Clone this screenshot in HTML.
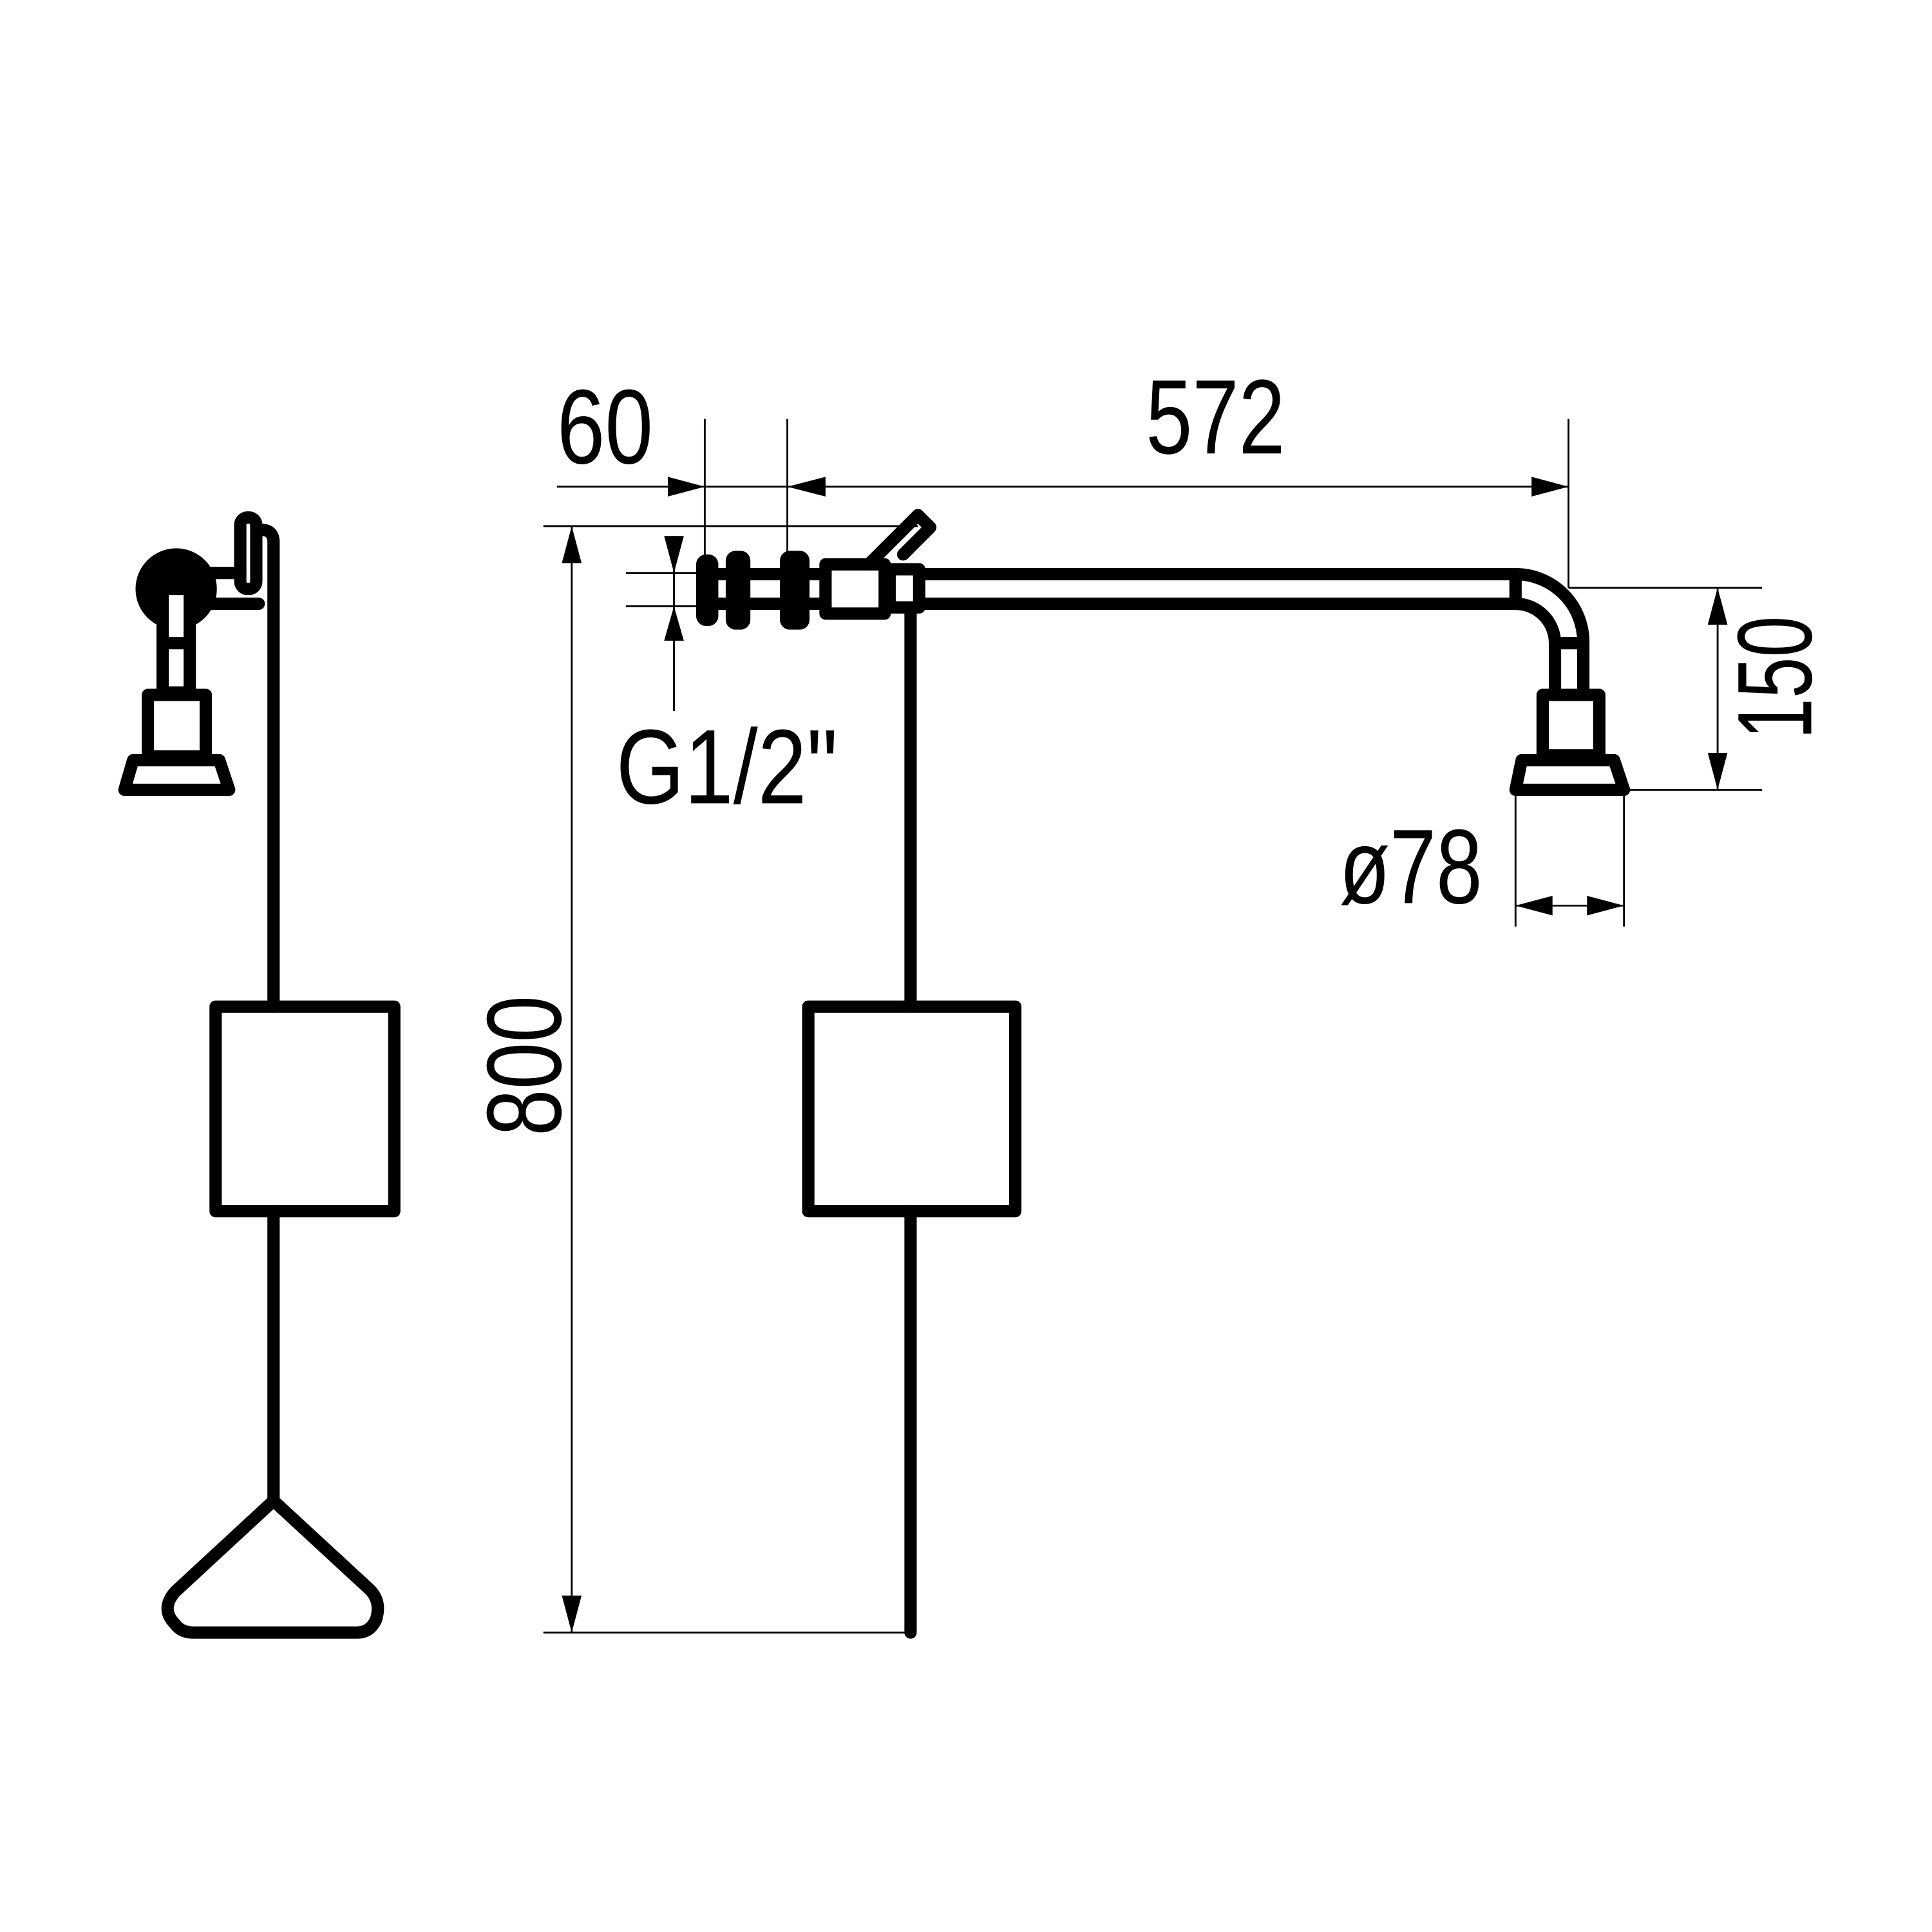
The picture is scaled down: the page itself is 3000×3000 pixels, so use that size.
<!DOCTYPE html>
<html><head><style>html,body{margin:0;padding:0;background:#fff}svg{display:block}</style></head>
<body>
<svg width="3000" height="3000" viewBox="0 0 1568 1568" xmlns="http://www.w3.org/2000/svg">
<rect width="1568" height="1568" fill="#fff"/>
<g fill="none" stroke="#000" stroke-width="10" stroke-linecap="round" stroke-linejoin="round">
<!-- LEFT VIEW -->
<path d="M222 817 V440 Q222 430 212 430"/>
<rect x="175" y="817" width="145" height="166"/>
<path d="M222 983 V1218"/>
<path d="M222 1218 L142 1292 Q130 1306 142 1318 Q147 1325 157 1325 H290 Q300 1325 305 1315 Q310 1300 300 1290 Z"/>
<rect x="195" y="420" width="13" height="58" rx="6"/>
<path d="M170 465 H195 M170 490 H210"/>
<circle cx="143" cy="478" r="28" fill="#000"/>
<rect x="132" y="478" width="22" height="84" fill="#fff"/>
<path d="M132 522 H154"/>
<rect x="120" y="564" width="47" height="50"/>
<path d="M108 617 H178 L186 641 H101 Z"/>
<!-- RIGHT VIEW -->
<path d="M739 497 V817"/>
<rect x="656" y="817" width="168" height="166"/>
<path d="M739 983 V1325"/>
<path d="M748 466 H1230 A55 55 0 0 1 1285 521 V562"/>
<path d="M748 490 H1230 A32 32 0 0 1 1262 522 V562"/>
<path d="M1230 466 V490 M1262 522 H1285"/>
<rect x="1252" y="564" width="46" height="49"/>
<path d="M1235 617 H1310 L1318 641 H1230 Z"/>
<!-- fittings -->
<rect x="570" y="455" width="8" height="48" rx="3" fill="#000"/>
<rect x="594" y="452" width="10" height="54" rx="3" fill="#000"/>
<path d="M578 466 H640 M578 490 H640"/>
<rect x="638" y="452" width="14" height="54" rx="3" fill="#000"/>
<path d="M652 466 H668 M652 490 H668"/>
<rect x="670" y="458" width="48" height="40"/>
<rect x="722" y="462" width="24" height="31"/>
<path d="M705 458 L745 418 L755 428 L733 450" stroke-width="10"/>
</g>
<!-- dimension lines -->
<g stroke="#000" stroke-width="1.5" fill="none">
<path d="M452 395 H1273 M572 340 V458 M639 340 V455 M1273 340 V477"/>
<path d="M464 427 V1325 M441 427 H745 M441 1325 H739"/>
<path d="M508 465 H572 M508 492 H572 M547 435 V577"/>
<path d="M1394 477 V641 M1273 477 H1430 M1320 641 H1430"/>
<path d="M1230 641 V752 M1318 641 V752 M1230 735 H1318"/>
</g>
<g fill="#000">
<path d="M572 395 L542 387 L542 403 Z"/>
<path d="M639 395 L670 387 L670 403 Z"/>
<path d="M1273 395 L1243 387 L1243 403 Z"/>
<path d="M464 427 L456 457 L472 457 Z"/>
<path d="M464 1325 L456 1295 L472 1295 Z"/>
<path d="M547 465 L539 435 L555 435 Z"/>
<path d="M547 492 L539 520 L555 520 Z"/>
<path d="M1394 477 L1386 507 L1402 507 Z"/>
<path d="M1394 641 L1386 611 L1402 611 Z"/>
<path d="M1230 735 L1260 727 L1260 743 Z"/>
<path d="M1318 735 L1288 727 L1288 743 Z"/>
</g>
<g font-family="Liberation Sans, sans-serif" font-size="86" fill="#000">
<text x="452" y="376" textLength="78" lengthAdjust="spacingAndGlyphs">60</text>
<text x="930" y="368" textLength="113" lengthAdjust="spacingAndGlyphs">572</text>
<text x="500" y="652" textLength="180" lengthAdjust="spacingAndGlyphs">G1/2"</text>
<text x="1087" y="733" textLength="116" lengthAdjust="spacingAndGlyphs">ø78</text>
<text transform="translate(455 922) rotate(-90)" textLength="114" lengthAdjust="spacingAndGlyphs">800</text>
<text transform="translate(1470 600) rotate(-90)" textLength="100" lengthAdjust="spacingAndGlyphs">150</text>
</g>
</svg>
</body></html>
